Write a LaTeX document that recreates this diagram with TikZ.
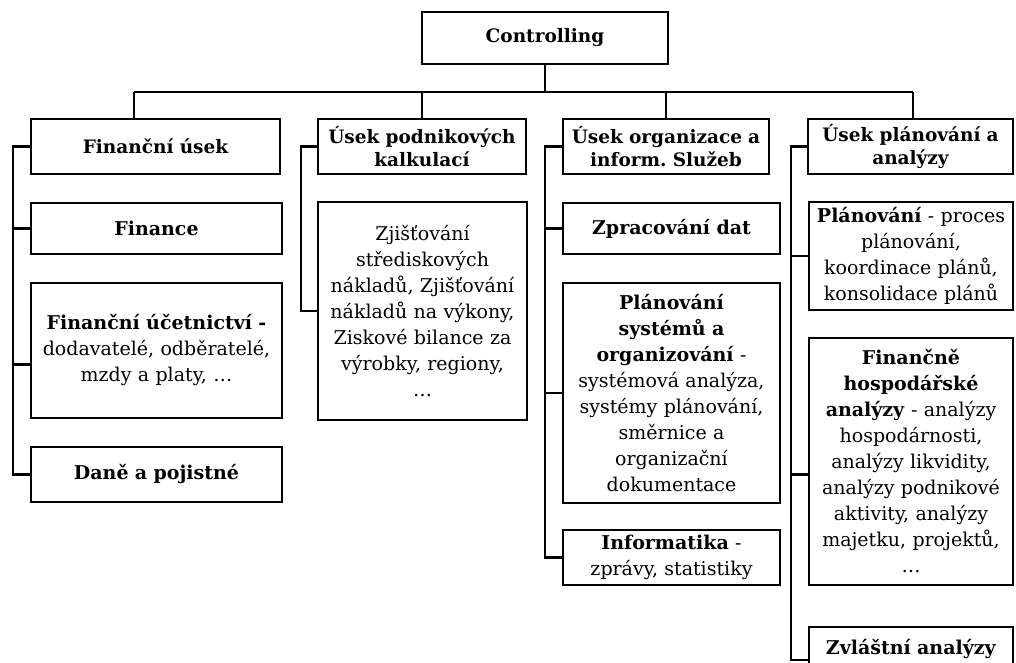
\documentclass[tikz,border=0pt]{standalone}
\usepackage{fontspec}
\setmainfont{DejaVu Serif}
\usetikzlibrary{calc}
\frenchspacing
\tikzset{
  box/.style={draw, line width=2.6pt, fill=white, align=center, inner sep=1pt, outer sep=0pt,
    font=\fontsize{19}{26}\selectfont},
  topbox/.style={box, font=\fontsize{18.5}{22.5}\selectfont\bfseries},
  conn/.style={line width=2.6pt},
}
\begin{document}
\begin{tikzpicture}[x=1pt,y=-1pt]
\useasboundingbox (0,0) rectangle (1016,663);
\clip (0,0) rectangle (1016,663);
\fill[white] (0,0) rectangle (1016,663);

% root
\node[box, font=\fontsize{18.5}{22}\selectfont\bfseries, minimum width=246, minimum height=52, text width=238] (root) at (545,38) {Controlling};

% level 1
\node[topbox, minimum width=249, minimum height=55, text width=243] (A) at (155.5,146.5) {Finanční úsek};
\node[topbox, minimum width=208, minimum height=55, text width=206] (B) at (422,146.5) {Úsek podnikových\\kalkulací};
\node[topbox, minimum width=206, minimum height=55, text width=204] (C) at (666,146.5) {Úsek organizace a\\inform. Služeb};
\node[topbox, minimum width=205, minimum height=55, text width=203] (D) at (910.5,146.5) {Úsek plánování a\\analýzy};

% column A
\node[box, minimum width=251, minimum height=51, text width=243] (A1) at (156.5,228.5) {\textbf{Finance}};
\node[box, minimum width=251, minimum height=135, text width=245] (A2) at (156.5,350.5) {\textbf{Finanční účetnictví -}\\dodavatelé, odběratelé,\\mzdy a platy, \dots};
\node[box, minimum width=251, minimum height=55, text width=243] (A3) at (156.5,474.5) {\textbf{Daně a pojistné}};

% column B
\node[box, minimum width=209, minimum height=218, text width=205] (B1) at (422.5,311) {Zjišťování\\střediskových\\nákladů, Zjišťování\\nákladů na výkony,\\Ziskové bilance za\\výrobky, regiony,\\\dots};

% column C
\node[box, minimum width=217, minimum height=51, text width=211] (C1) at (671.5,228.5) {\textbf{Zpracování dat}};
\node[box, minimum width=217, minimum height=220, text width=213] (C2) at (671.5,393) {\textbf{Plánování}\\\textbf{systémů a}\\\textbf{organizování} -\\systémová analýza,\\systémy plánování,\\směrnice a\\organizační\\dokumentace};
\node[box, minimum width=217, minimum height=55, text width=213] (C3) at (671.5,557.5) {\textbf{Informatika} -\\zprávy, statistiky};

% column D
\node[box, minimum width=204, minimum height=108, text width=202] (D1) at (911,256) {\textbf{Plánování} - proces\\plánování,\\koordinace plánů,\\konsolidace plánů};
\node[box, minimum width=204, minimum height=247, text width=202] (D2) at (911,461.5) {\textbf{Finančně}\\\textbf{hospodářské}\\\textbf{analýzy} - analýzy\\hospodárnosti,\\analýzy likvidity,\\analýzy podnikové\\aktivity, analýzy\\majetku, projektů,\\\dots};
\node[box, minimum width=204, minimum height=44, text width=202] (D3) at (911,649) {\textbf{Zvláštní analýzy}};

% attachment points
\coordinate (pA2) at ([yshift=-14pt]A2.west);
\coordinate (pD2) at ([yshift=-13pt]D2.west);
\coordinate (pD3) at ([yshift=-11pt]D3.west);

% bus
\coordinate (bus) at (545,92);
\coordinate (dA) at (134,92);
\coordinate (dD) at (913,92);
\draw[conn] (root.south) -- (bus);
\draw[conn] (dA) -- (dD);
\draw[conn] (dA) -- (dA |- A.north);
\draw[conn] (B.north |- bus) -- (B.north);
\draw[conn] (C.north |- bus) -- (C.north);
\draw[conn] (dD) -- (dD |- D.north);

% spines
\coordinate (sA) at (13,0);
\coordinate (sB) at (301,0);
\coordinate (sC) at (545,0);
\coordinate (sD) at (791,0);
\draw[conn] (A.west) -| (sA |- A3.west) -- (A3.west);
\draw[conn] (A1.west) -- (A1.west -| sA);
\draw[conn] (pA2) -- (pA2 -| sA);
\draw[conn] (B.west) -| (sB |- B1.west) -- (B1.west);
\draw[conn] (C.west) -| (sC |- C3.west) -- (C3.west);
\draw[conn] (C1.west) -- (C1.west -| sC);
\draw[conn] (C2.west) -- (C2.west -| sC);
\draw[conn] (D.west) -| (sD |- pD3) -- (pD3);
\draw[conn] (D1.west) -- (D1.west -| sD);
\draw[conn] (pD2) -- (pD2 -| sD);
\end{tikzpicture}
\end{document}
